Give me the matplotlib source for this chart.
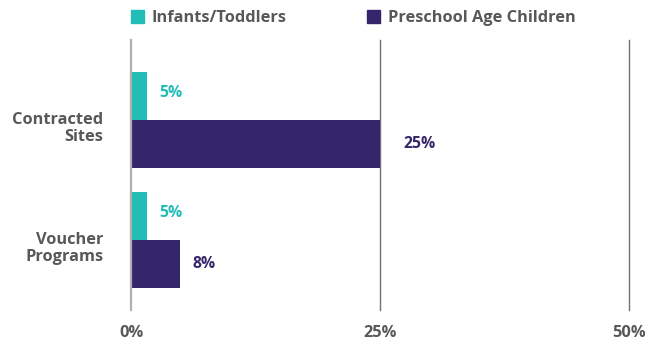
from matplotlib import pyplot as plt
from matplotlib.patches import Patch
import numpy as np

plt.rcParams['font.family'] = ['Open Sans', 'DejaVu Sans']
plt.rcParams['font.weight'] = 'bold'

# 数据
categories = ['Contracted\nSites', 'Voucher\nPrograms']
series_names = ['Infants/Toddlers', 'Preschool Age Children']
infants = [1.6, 1.6]          # 图上柱子的长度（与标注不一致，按图读取）
preschool = [25, 4.9]
infants_labels = ['5%', '5%']
preschool_labels = ['25%', '8%']
x_ticks = [0, 25, 50]
x_tick_labels = ['0%', '25%', '50%']

teal = '#22bdb6'
purple = '#35256a'
grey_text = '#58585a'
fs = 11.8

fig = plt.figure(figsize=(6.62, 3.43), dpi=100)
ax = fig.add_axes([131 / 662, 1 - 310 / 343, 498 / 662, 270 / 343])

y = np.arange(len(categories))
h = 0.4
ax.barh(y - h / 2, infants, height=h, color=teal, zorder=3)
ax.barh(y + h / 2, preschool, height=h, color=purple, zorder=3)

for i in range(len(categories)):
    ax.annotate(infants_labels[i], (infants[i], y[i] - h / 2), xytext=(9, 2),
                textcoords='offset points', va='center', ha='left',
                color=teal, fontsize=fs - 0.5, fontweight='bold')
    off = 17 if preschool[i] >= 25 else 9
    ax.annotate(preschool_labels[i], (preschool[i], y[i] + h / 2), xytext=(off, 0),
                textcoords='offset points', va='center', ha='left',
                color=purple, fontsize=fs - 0.5, fontweight='bold')

# 网格线
for t in x_ticks:
    if t == 0:
        ax.axvline(t, color='#b0b0b0', lw=1.6, zorder=4, clip_on=False)
    else:
        ax.axvline(t, color='#707070', lw=1, zorder=1, clip_on=False)

ax.set_xlim(0, 50)
ax.set_ylim(1.583, -0.667)
ax.set_xticks(x_ticks)
ax.set_xticklabels(x_tick_labels, color=grey_text, fontsize=fs, fontweight='bold')
ax.set_yticks(y + 0.05)
ax.set_yticklabels(categories, color=grey_text, fontsize=fs, fontweight='bold',
                   linespacing=1.05)
ax.tick_params(axis='x', length=0, pad=11)
ax.tick_params(axis='y', length=0, pad=20)
for s in ax.spines.values():
    s.set_visible(False)

handles = [Patch(color=teal), Patch(color=purple)]
fig.legend(handles, series_names, loc='center left', bbox_to_anchor=(116 / 662, 1 - 18 / 343),
           ncol=2, frameon=False, handlelength=0.8, handleheight=0.8, handletextpad=0.45,
           columnspacing=4.95, prop={'size': fs, 'weight': 'bold'}, labelcolor=grey_text)

plt.savefig('out.png', dpi=100)
